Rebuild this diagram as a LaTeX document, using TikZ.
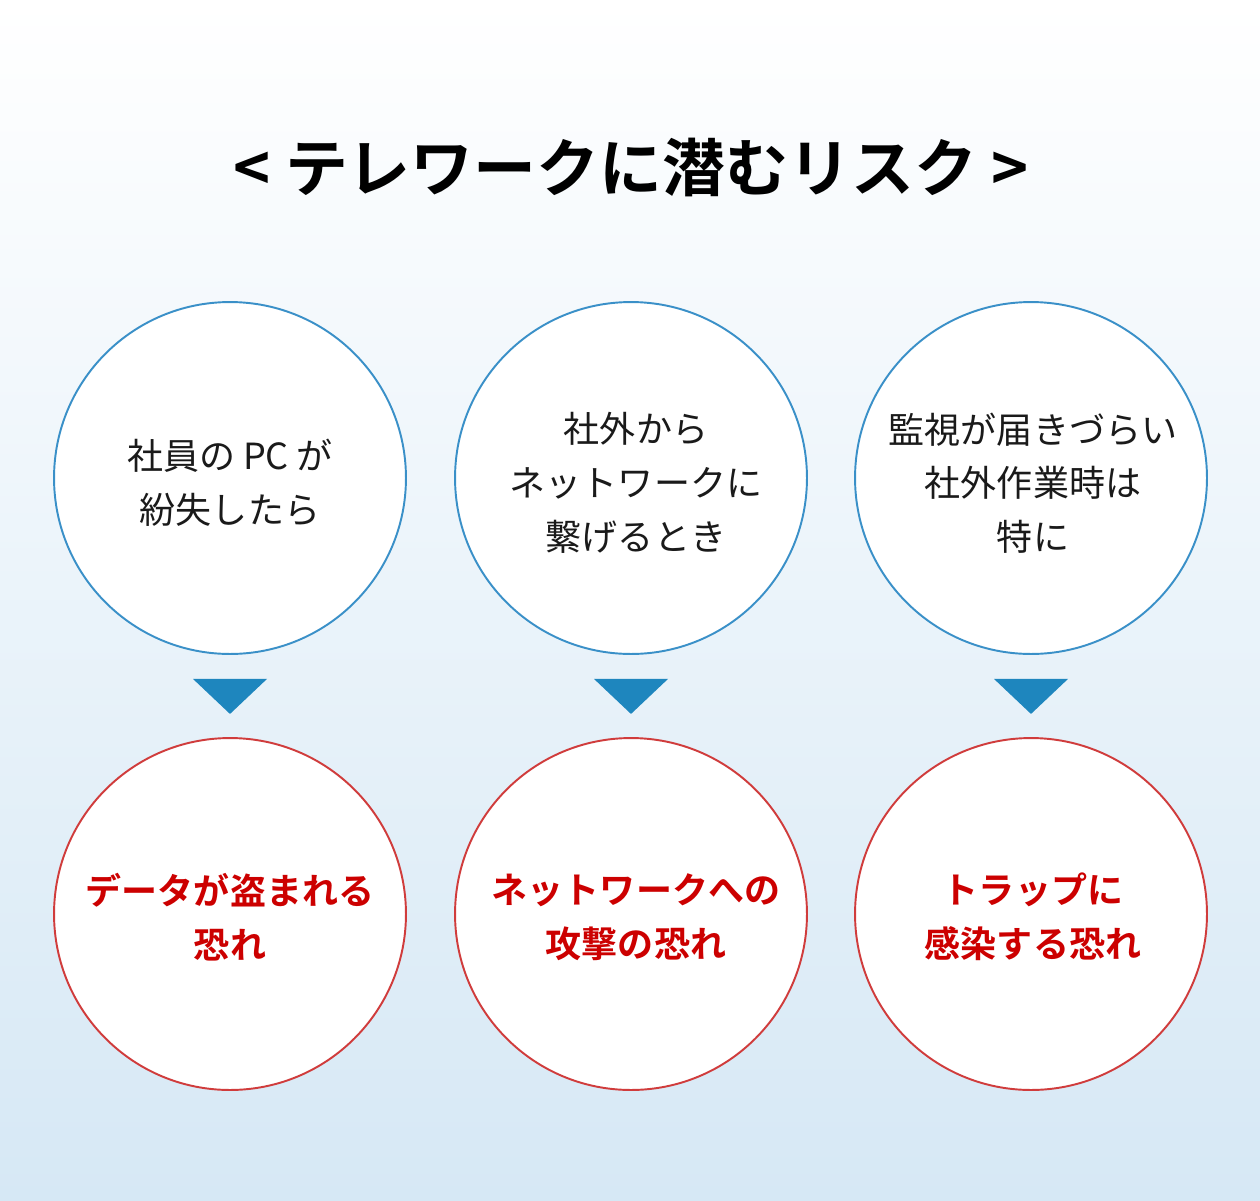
\documentclass[tikz,border=0pt]{standalone}
\usepackage{fontspec}
\setmainfont{Noto Sans CJK JP}[BoldFont={Noto Sans CJK JP Bold}]
\usetikzlibrary{calc}
\definecolor{bgblue}{HTML}{D6E8F5}
\definecolor{circblue}{HTML}{3A90C8}
\definecolor{circred}{HTML}{D03C3C}
\definecolor{tricol}{HTML}{1E86BE}
\definecolor{redtext}{HTML}{CC0000}
\definecolor{bodytext}{HTML}{1A1A1A}
\begin{document}
\begin{tikzpicture}[x=0.02cm,y=-0.02cm,
  ring/.style={circle,line width=1.1pt,fill=white,minimum size=7.04cm,inner sep=0pt},
  cause/.style={ring,draw=circblue},
  effect/.style={ring,draw=circred},
  causetext/.style={align=center,text=bodytext,inner sep=0pt,font=\fontsize{20.5}{30.6}\selectfont},
  effecttext/.style={align=center,text=redtext,inner sep=0pt,font=\bfseries\fontsize{20.5}{30.6}\selectfont},
  tri/.style={fill=tricol}
]
\shade[top color=white,bottom color=bgblue] (0,0) rectangle (1260,1200);
\useasboundingbox (0,0) rectangle (1260,1200);
\node[font=\bfseries\fontsize{35.8}{42}\selectfont] (title) at (631,168) {< テレワークに潜むリスク >};
\node[cause] (c1) at (230,478) {};
\node[cause] (c2) at (631,478) {};
\node[cause] (c3) at (1031,478) {};
\node[effect] (e1) at (230,914) {};
\node[effect] (e2) at (631,914) {};
\node[effect] (e3) at (1031,914) {};
\node[causetext] (t1) at ($(c1)+(0,5)$) {社員の PC が\\紛失したら};
\node[causetext] (t2) at ($(c2)+(5,5)$) {社外から\\ネットワークに\\繋げるとき};
\node[causetext] (t3) at ($(c3)+(2,5)$) {監視が届きづらい\\社外作業時は\\特に};
\node[effecttext] (u1) at ($(e1)+(0,3)$) {データが盗まれる\\恐れ};
\node[effecttext] (u2) at ($(e2)+(5,3)$) {ネットワークへの\\攻撃の恐れ};
\node[effecttext] (u3) at ($(e3)+(2,3)$) {トラップに\\感染する恐れ};
\foreach \i in {1,2,3}{
  \fill[tri] ($(c\i.south)+(-37,24)$) -- ($(c\i.south)+(37,24)$) -- ($(c\i.south)+(0,59)$) -- cycle;
}
\end{tikzpicture}
\end{document}
